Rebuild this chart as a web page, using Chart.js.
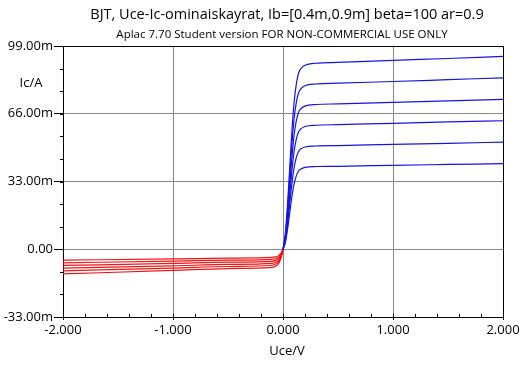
<!DOCTYPE html>
<html>
<head>
<meta charset="utf-8">
<script src="https://cdn.jsdelivr.net/npm/chart.js@4"></script>
<style>
  html, body { margin: 0; padding: 0; background: #fff; }
  canvas { display: block; }
</style>
</head>
<body>
<canvas id="bjtChart" width="526" height="367"></canvas>
<script>
// BJT Uce-Ic characteristics, Ib = 0.4m ... 0.9m (Ic in mA)

const titleText = 'BJT, Uce-Ic-ominaiskayrat, Ib=[0.4m,0.9m] beta=100 ar=0.9';
const subTitleText = 'Aplac 7.70 Student version FOR NON-COMMERCIAL USE ONLY';

// Uce points (V)
const uceRev = [-2, -1, -0.5, -0.1, -0.06, -0.04, -0.02, -0.01, 0];
const uceFwd = [0, 0.02, 0.04, 0.06, 0.08, 0.1, 0.12, 0.14, 0.16, 0.2, 0.3, 0.5, 1, 1.5, 2];

// forward region, one array per Ib
const icFwd1 = [0, 3.0, 9.2, 17.2, 25.2, 31.6, 35.6, 38.0, 39.0, 39.9, 40.3, 40.4, 40.9, 41.3, 41.7];
const icFwd2 = [0, 3.8, 11.5, 21.5, 31.5, 39.5, 44.5, 47.5, 48.8, 49.8, 50.3, 50.5, 51.1, 51.6, 52.2];
const icFwd3 = [0, 4.5, 13.8, 25.8, 37.8, 47.4, 53.4, 57.0, 58.5, 59.8, 60.4, 60.7, 61.3, 62.0, 62.6];
const icFwd4 = [0, 5.3, 16.1, 30.1, 44.1, 55.3, 62.3, 66.5, 68.3, 69.7, 70.5, 70.8, 71.5, 72.3, 73.0];
const icFwd5 = [0, 6.0, 18.4, 34.4, 50.4, 63.2, 71.2, 76.0, 78.0, 79.6, 80.5, 80.9, 81.7, 82.6, 83.5];
const icFwd6 = [0, 6.8, 20.7, 38.7, 56.7, 71.1, 80.1, 85.5, 87.8, 89.6, 90.6, 91.0, 92.0, 92.9, 93.9];

// reverse region
const icRev1 = [-5.3, -4.7, -4.3, -4.0, -3.6, -3.1, -2.0, -1.2, 0];
const icRev2 = [-6.6, -5.8, -5.3, -4.9, -4.5, -3.9, -2.5, -1.5, 0];
const icRev3 = [-7.9, -6.9, -6.3, -5.9, -5.3, -4.7, -3.0, -1.8, 0];
const icRev4 = [-9.2, -8.1, -7.4, -6.9, -6.2, -5.5, -3.5, -2.1, 0];
const icRev5 = [-10.5, -9.2, -8.4, -7.8, -7.1, -6.2, -4.0, -2.4, 0];
const icRev6 = [-12.0, -10.3, -9.4, -8.8, -8.0, -7.0, -4.5, -2.7, 0];

const fwdCurves = [icFwd1, icFwd2, icFwd3, icFwd4, icFwd5, icFwd6];
const revCurves = [icRev1, icRev2, icRev3, icRev4, icRev5, icRev6];

const FONT = "'Open Sans', 'Noto Sans', sans-serif";

function toPoints(xs, ys) {
    return xs.map((x, i) => ({ x: x, y: ys[i] }));
}

const datasets = [];
fwdCurves.forEach(function (c) {
    datasets.push({ data: toPoints(uceFwd, c), borderColor: '#1414e6' });
});
revCurves.forEach(function (c) {
    datasets.push({ data: toPoints(uceRev, c), borderColor: '#f01414' });
});

// texts, frame and minor ticks
const decorPlugin = {
    id: 'decor',
    afterDatasetsDraw: function (chart) {
        const { ctx, chartArea: a, scales } = chart;
        ctx.save();
        ctx.strokeStyle = '#000';
        ctx.lineWidth = 1;
        ctx.beginPath();
        ctx.moveTo(a.left, a.top + 0.5);
        ctx.lineTo(a.right + 0.5, a.top + 0.5);
        ctx.lineTo(a.right + 0.5, a.bottom);
        ctx.stroke();

        // minor ticks
        ctx.beginPath();
        for (let v = -2; v <= 2.001; v += 0.2) {
            const px = Math.round(scales.x.getPixelForValue(v)) + 0.5;
            ctx.moveTo(px, a.bottom);
            ctx.lineTo(px, a.bottom - 3);
        }
        for (let v = -33; v <= 99.001; v += 11) {
            const py = Math.round(scales.y.getPixelForValue(v)) + 0.5;
            ctx.moveTo(a.left, py);
            ctx.lineTo(a.left - 3, py);
        }
        ctx.stroke();

        ctx.fillStyle = '#000';
        ctx.textAlign = 'center';
        ctx.textBaseline = 'middle';
        ctx.font = '14.5px ' + FONT;
        ctx.fillText(titleText, 287, 15);
        ctx.font = '11.5px ' + FONT;
        ctx.fillText(subTitleText, 282, 35);
        ctx.font = '13px ' + FONT;
        ctx.fillText('Ic/A', 31, 83);
        ctx.fillText('Uce/V', 287, 351);
        ctx.restore();
    }
};

new Chart(document.getElementById('bjtChart'), {
    type: 'line',
    data: { datasets: datasets },
    options: {
        responsive: false,
        animation: false,
        layout: { padding: { top: 46, right: 23, left: 0, bottom: 0 } },
        elements: {
            point: { radius: 0 },
            line: { borderWidth: 1.2, cubicInterpolationMode: 'monotone', fill: false }
        },
        plugins: {
            legend: { display: false },
            tooltip: { enabled: false }
        },
        scales: {
            x: {
                type: 'linear',
                min: -2,
                max: 2,
                afterFit: function (s) { s.height = 50; },
                ticks: {
                    stepSize: 1,
                    maxRotation: 0,
                    padding: 2,
                    color: '#000',
                    font: { family: FONT, size: 13 },
                    callback: function (v) { return v.toFixed(3); }
                },
                grid: { color: '#888', tickColor: '#000', tickLength: 3 },
                border: { color: '#000' }
            },
            y: {
                type: 'linear',
                min: -33,
                max: 99,
                afterFit: function (s) { s.width = 63; },
                ticks: {
                    stepSize: 33,
                    padding: 1,
                    color: '#000',
                    font: { family: FONT, size: 13 },
                    callback: function (v) { return v === 0 ? '0.00' : v.toFixed(2) + 'm'; }
                },
                grid: { color: '#888', tickColor: '#000', tickLength: 9 },
                border: { color: '#000' }
            }
        }
    },
    plugins: [decorPlugin]
});
</script>
</body>
</html>
